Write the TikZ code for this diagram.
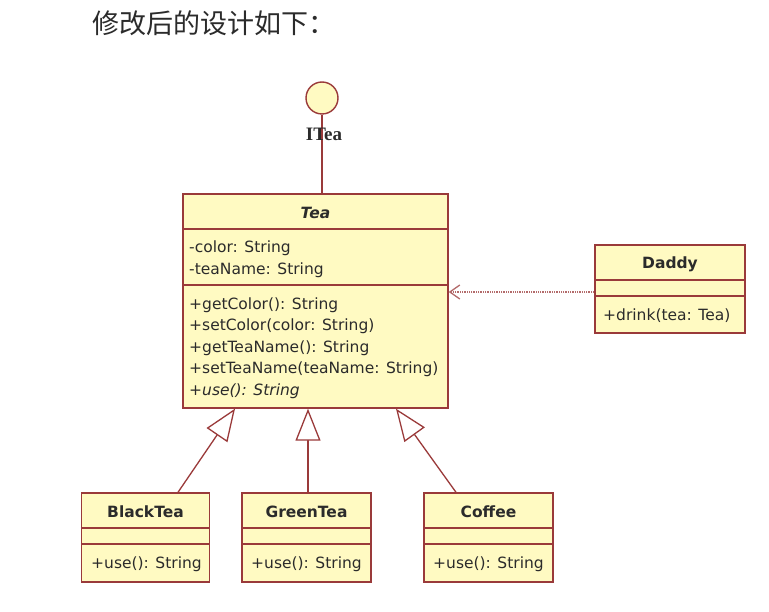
\documentclass[tikz,border=0pt]{standalone}
\usepackage{fontspec}
\setmainfont{DejaVu Sans}
\newfontfamily\cjkfont{Noto Sans CJK SC}
\newfontfamily\seriffont{Liberation Serif}
\usetikzlibrary{arrows.meta,positioning}
\definecolor{ink}{HTML}{2B2B2B}
\definecolor{rosewood}{HTML}{9A3A3A}
\definecolor{cream}{HTML}{FFFAC2}
\tikzset{
  classbox/.style={rectangle,draw=rosewood,fill=cream,line width=1.4pt,inner sep=0pt},
  divider/.style={draw=rosewood,line width=1.4pt},
  header/.style={font=\fontsize{15.5}{18}\selectfont\bfseries,text=ink},
  member/.style={anchor=west,align=left,inner sep=0pt,font=\fontsize{15.5}{21.5}\selectfont,text=ink},
  iface/.style={circle,draw=rosewood,fill=cream,line width=1.4pt,minimum size=32pt,inner sep=0pt},
  link/.style={draw=rosewood,line width=1.3pt},
  extends/.style={link,-{Triangle[length=32pt,width=25pt,fill=white]}},
  uses/.style={link,draw=rosewood!75,densely dotted,-{Straight Barb[length=10pt,width=14pt]}}
}
\begin{document}
\begin{tikzpicture}[x=1pt,y=-1pt]
\path[fill=white,use as bounding box] (0,0) rectangle (769,612);

\node[anchor=west,inner sep=0pt,text=ink,font=\cjkfont\fontsize{27}{30}\selectfont] (heading) at (92,23) {修改后的设计如下：};

% interface
\node[iface] (itea) at (322,98) {};
\node[classbox,minimum width=265pt,minimum height=214pt] (tea) at (315.5,301) {};
\draw[link] (itea.south) -- (itea.south |- tea.north);
\node[text=ink,inner sep=0pt,font=\seriffont\bfseries\fontsize{19}{22}\selectfont] (itealabel) at (324,134) {ITea};

% abstract class
\draw[divider] (tea.west |- 0,229) -- (tea.east |- 0,229);
\draw[divider] (tea.west |- 0,285) -- (tea.east |- 0,285);
\node[header] (teaname) at (315.5,213) {\itshape Tea};
\node[member] (teafields) at (189,259) {-color: String\\-teaName: String};
\node[member] (teaops) at (189,348) {+getColor(): String\\+setColor(color: String)\\+getTeaName(): String\\+setTeaName(teaName: String)\\\textit{+use(): String}};

% client
\node[classbox,minimum width=150pt,minimum height=88pt] (daddy) at (670,289) {};
\draw[divider] (daddy.west |- 0,280) -- (daddy.east |- 0,280);
\draw[divider] (daddy.west |- 0,296) -- (daddy.east |- 0,296);
\node[header] (daddyname) at (670,264.5) {Daddy};
\node[member] (daddyops) at (603,316) {+drink(tea: Tea)};
\draw[uses] ([yshift=-3pt]daddy.west) -- ([yshift=-3pt]daddy.west -| tea.east);

% subclasses
\node[classbox,minimum width=128pt,minimum height=89pt] (blacktea) at (145.5,537.5) {};
\draw[divider] (blacktea.west |- 0,528) -- (blacktea.east |- 0,528);
\draw[divider] (blacktea.west |- 0,544) -- (blacktea.east |- 0,544);
\node[header] (blackteaname) at (145.5,511.5) {BlackTea};
\node[member] (blackteaops) at (91,564) {+use(): String};

\node[classbox,minimum width=129pt,minimum height=89pt] (greentea) at (306.5,537.5) {};
\draw[divider] (greentea.west |- 0,528) -- (greentea.east |- 0,528);
\draw[divider] (greentea.west |- 0,544) -- (greentea.east |- 0,544);
\node[header] (greenteaname) at (306.5,511.5) {GreenTea};
\node[member] (greenteaops) at (251,564) {+use(): String};

\node[classbox,minimum width=129pt,minimum height=89pt] (coffee) at (488.5,537.5) {};
\draw[divider] (coffee.west |- 0,528) -- (coffee.east |- 0,528);
\draw[divider] (coffee.west |- 0,544) -- (coffee.east |- 0,544);
\node[header] (coffeename) at (488.5,511.5) {Coffee};
\node[member] (coffeeops) at (433,564) {+use(): String};

\draw[extends] ([xshift=32.5pt]blacktea.north) -- ([xshift=-80.5pt]tea.south);
\draw[extends] ([xshift=1.5pt]greentea.north) -- ([xshift=-7.5pt]tea.south);
\draw[extends] ([xshift=-32.5pt]coffee.north) -- ([xshift=80.5pt]tea.south);
\end{tikzpicture}
\end{document}
